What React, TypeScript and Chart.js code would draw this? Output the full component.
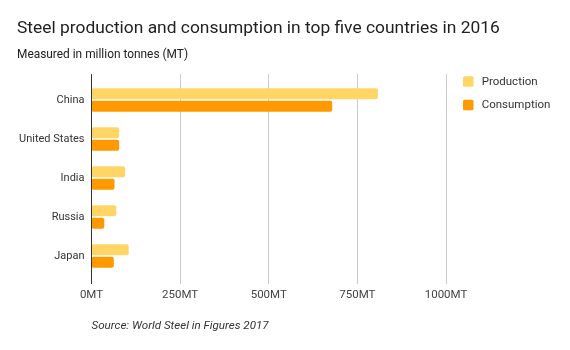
import React, { useEffect, useRef } from "react";
import { Chart, registerables } from "chart.js";

Chart.register(...registerables);

const countries = ["China", "United States", "India", "Russia", "Japan"];
const production = [808, 78, 95, 70, 105];
const consumption = [679, 78, 65, 36, 63];
const seriesLabels = ["Production", "Consumption"];
const seriesColors = ["#FFD666", "#FF9900"];
const xTickValues = [0, 250, 500, 750, 1000];
const titleText = "Steel production and consumption in top five countries in 2016";
const subtitleText = "Measured in million tonnes (MT)";
const sourceText = "Source: World Steel in Figures 2017";

const FONT = "Roboto";

const gridPlugin = {
  id: "extGrid",
  beforeDatasetsDraw(chart: any) {
    const { ctx, chartArea, scales } = chart;
    const xs = scales.x;
    ctx.save();
    ctx.lineWidth = 1;
    xs.ticks.forEach((t: any) => {
      if (t.value === 0) return;
      const x = Math.floor(xs.getPixelForValue(t.value)) + 0.5;
      ctx.strokeStyle = "#cccccc";
      ctx.beginPath();
      ctx.moveTo(x, chartArea.top - 6.5);
      ctx.lineTo(x, chartArea.bottom + 8.5);
      ctx.stroke();
    });
    ctx.restore();
  },
  afterDatasetsDraw(chart: any) {
    const { ctx, chartArea, scales } = chart;
    const xs = scales.x;
    ctx.save();
    ctx.lineWidth = 1;
    const x = Math.floor(xs.getPixelForValue(0)) + 0.5;
    ctx.strokeStyle = "#333333";
    ctx.beginPath();
    ctx.moveTo(x, chartArea.top - 6.5);
    ctx.lineTo(x, chartArea.bottom + 8.5);
    ctx.stroke();
    ctx.restore();
  },
};

const legendPlugin = {
  id: "sideLegend",
  afterDraw(chart: any) {
    const { ctx, chartArea } = chart;
    ctx.save();
    chart.data.datasets.forEach((ds: any, i: number) => {
      const cy = chartArea.top + 1 + i * 23.5;
      const bx = chartArea.right + 17;
      const size = 10.5;
      ctx.fillStyle = ds.backgroundColor;
      ctx.beginPath();
      (ctx as any).roundRect(bx, cy - size / 2, size, size, 1.5);
      ctx.fill();
      ctx.fillStyle = "#333333";
      ctx.font = `11.5px ${FONT}`;
      ctx.textBaseline = "middle";
      ctx.textAlign = "left";
      ctx.fillText(ds.label, chartArea.right + 35.7, cy + 0.5);
    });
    ctx.restore();
  },
};

export default function App() {
  const ref = useRef<HTMLCanvasElement | null>(null);

  useEffect(() => {
    if (!ref.current) return;
    const chart = new Chart(ref.current, {
      type: "bar",
      data: {
        labels: countries,
        datasets: [
          {
            label: seriesLabels[0],
            data: production,
            backgroundColor: seriesColors[0],
            borderRadius: 2,
            borderSkipped: false,
            categoryPercentage: 0.64,
            barPercentage: 0.89,
          },
          {
            label: seriesLabels[1],
            data: consumption,
            backgroundColor: seriesColors[1],
            borderRadius: 2,
            borderSkipped: false,
            categoryPercentage: 0.64,
            barPercentage: 0.89,
          },
        ],
      },
      options: {
        indexAxis: "y",
        responsive: false,
        animation: false,
        layout: { padding: { left: 17, right: 0, top: 0, bottom: 0 } },
        plugins: {
          legend: { display: false },
          tooltip: { enabled: false },
          title: {
            display: true,
            text: titleText,
            align: "start",
            color: "#212121",
            font: { family: FONT, size: 17.4, weight: "normal" },
            padding: { top: 18, bottom: 0 },
          },
          subtitle: {
            display: true,
            text: subtitleText,
            align: "start",
            color: "#212121",
            font: { family: FONT, size: 11.9, weight: "normal" },
            padding: { top: 9.5, bottom: 17.8 },
          },
        },
        scales: {
          x: {
            type: "linear",
            position: "bottom",
            min: 0,
            max: 1000,
            afterBuildTicks: (scale: any) => {
              scale.ticks = xTickValues.map((v) => ({ value: v }));
            },
            afterFit: (scale: any) => {
              scale.height = 74.5;
            },
            grid: { display: false, drawTicks: false },
            border: { display: false },
            ticks: {
              color: "#444444",
              font: { family: FONT, size: 11.5 },
              padding: 12.5,
              maxRotation: 0,
              callback: (v: any) => `${v}MT`,
            },
            title: {
              display: true,
              text: sourceText,
              align: "start",
              color: "#333333",
              font: { family: FONT, size: 11.6, style: "italic" },
              padding: { top: 4, bottom: 16.5 },
            },
          },
          y: {
            type: "category",
            position: "left",
            afterFit: (scale: any) => {
              scale.width = 74.5;
            },
            grid: { display: false, drawTicks: false },
            border: { display: false },
            ticks: {
              color: "#333333",
              font: { family: FONT, size: 11 },
              padding: 7,
            },
          },
          yRight: {
            type: "linear",
            position: "right",
            display: true,
            grid: { display: false, drawTicks: false },
            border: { display: false },
            ticks: { display: false },
            afterFit: (scale: any) => {
              scale.width = 124;
            },
          },
        },
      },
      plugins: [gridPlugin, legendPlugin],
    } as any);
    return () => chart.destroy();
  }, []);

  return (
    <div style={{ position: "fixed", left: 0, top: 0, width: 570, height: 350, background: "#ffffff" }}>
      <canvas ref={ref} width={570} height={350} style={{ display: "block", width: 570, height: 350 }} />
    </div>
  );
}
